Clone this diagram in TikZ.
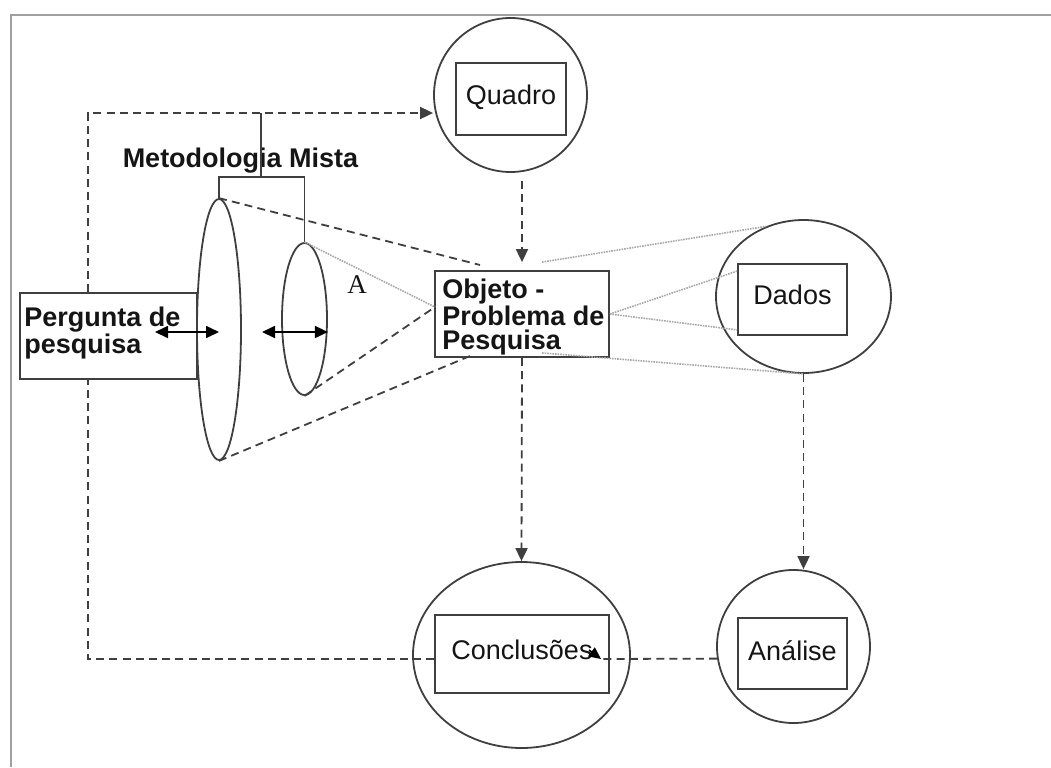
\documentclass[tikz,border=0pt]{standalone}
\usepackage{fontspec}
\setmainfont{Liberation Sans}
\newfontfamily\letterfont{Liberation Serif}
\usepackage{xcolor}
\usepackage{tikz}
\usetikzlibrary{shapes.geometric, positioning, calc, backgrounds, arrows.meta}

\definecolor{linegray}{HTML}{3F3F3F}
\definecolor{dotgray}{HTML}{A8A8A8}
\definecolor{framegray}{HTML}{A0A0A0}
\definecolor{inkblack}{HTML}{151515}

\begin{document}
\begin{tikzpicture}[x=0.5pt, y=-0.5pt,
        box/.style={draw=linegray, line width=0.9pt, fill=white, inner sep=0pt,
                text=inkblack, font=\fontsize{13.5}{15}\selectfont,
                text height=10pt, text depth=4.6pt},
        oval/.style={ellipse, draw=linegray, line width=0.9pt, inner sep=0pt},
        boldtxt/.style={font=\fontsize{13.5}{12}\selectfont\bfseries, text=inkblack,
                align=left, inner sep=0pt},
        dashline/.style={draw=linegray, line width=0.9pt, dash pattern=on 4pt off 2.6pt},
        dasharrow/.style={dashline, -{Triangle[length=6.5pt,width=6pt]}},
        dotline/.style={draw=dotgray, line width=0.8pt, dash pattern=on 0.8pt off 0.5pt},
        dblarrow/.style={draw=black, line width=0.9pt,
                {Triangle[length=6.5pt,width=6pt]}-{Triangle[length=6.5pt,width=6pt]}},
    ]
    \useasboundingbox (0,0) rectangle (1051,767);
    \draw[framegray, line width=1pt] (11,767) -- (11,15) -- (1051,15);

    % circles and boxes
    \node[oval, minimum width=76.5pt, minimum height=77pt] (quadroCirc) at (510.5,95) {};
    \node[box, minimum width=55pt, minimum height=36pt] (quadroBox) at (511,99) {Quadro};
    \node[oval, minimum width=87.5pt, minimum height=76.5pt] (dadosCirc) at (803.5,296.5) {};
    \node[box, minimum width=54.5pt, minimum height=35.5pt] (dadosBox) at (792.5,299.5) {Dados};
    \node[oval, minimum width=76.5pt, minimum height=76.5pt] (anaCirc) at (793.5,646.5) {};
    \node[box, minimum width=54.5pt, minimum height=35.5pt, text depth=3pt] (anaBox) at (792.5,653.5) {Análise};
    \node[oval, minimum width=108.5pt, minimum height=93pt] (conclCirc) at (521.5,655) {};
    \node[box, minimum width=87pt, minimum height=39pt] (conclBox) at (522,654) {Conclusões};

    \node[box, minimum width=87pt, minimum height=43pt] (objBox) at (522,314) {};
    \node[boldtxt, anchor=west] (objTxt) at (442,317) {Objeto -\\Problema de\\Pesquisa};
    \node[box, minimum width=88.5pt, minimum height=43pt] (pergBox) at (108.5,336) {};
    \node[boldtxt, anchor=west] (pergTxt) at (24,333) {Pergunta de\\pesquisa};

    \node[oval, minimum width=22pt, minimum height=130.5pt] (bigEll) at (219,329.5) {};
    \node[oval, minimum width=22.5pt, minimum height=76pt] (smallEll) at (304.5,319) {};
    \node[boldtxt, anchor=base] (metTxt) at (240.5,167) {Metodologia Mista};
    \node[font=\letterfont\fontsize{13.5}{15}\selectfont, text=inkblack, inner sep=0pt] (letterA) at (357,285) {A};

    % bracket above the two ellipses
    \coordinate (brkTop) at (261,113);
    \coordinate (brkMid) at (261,177);
    \draw[linegray, line width=0.9pt] (bigEll.north) |- (brkMid) -| (smallEll.north);
    \draw[linegray, line width=0.9pt] (brkTop) -- (brkMid);

    % long loop on the left
    \coordinate (loopBL) at (88,659);
    \coordinate (loopTL) at (88,113);
    \begin{scope}[on background layer]
        \draw[dasharrow] (conclBox.west |- loopBL) -- (loopBL) -- (loopTL) -- (loopTL -| quadroCirc.west);
    \end{scope}

    % cone towards the object
    \coordinate (objTop) at (480,265);
    \coordinate (objBot) at (470,356);
    \coordinate (objLeft) at (435,307);
    \draw[dashline] (bigEll.north) -- (objTop);
    \draw[dashline] (bigEll.south) -- (objBot);
    \draw[dashline] (smallEll.south) -- (objLeft);
    \draw[dotline] (smallEll.north) -- (objLeft);

    \draw[dotline] ($(objBox.north)+(20,-8)$) -- (dadosCirc.118);
    \draw[dotline] (objBox.east) -- ($(dadosBox.north west)+(0,8)$);
    \draw[dotline] (objBox.east) -- ($(dadosBox.south west)+(0,-6)$);
    \draw[dotline] ($(objBox.south)+(20,-5)$) -- (dadosCirc.south);

    % flow arrows
    \draw[dasharrow, shorten <=4pt, shorten >=4pt] (quadroCirc.south -| objBox.north) -- (objBox.north);
    \draw[dasharrow] (objBox.south) -- (conclCirc.north);
    \draw[dasharrow] (dadosCirc.south) -- (dadosCirc.south |- anaCirc.north);
    \coordinate (conclTip) at (601,659);
    \draw[dashline] (anaCirc.189) -- (conclTip);
    \draw[black, line width=0.8pt, -{Triangle[length=6pt,width=5.5pt]}] ($(conclTip)+(-12,-9)$) -- (conclTip);

    \coordinate (pergArr) at (155,332);
    \coordinate (midArr) at (262,332);
    \draw[dblarrow] (pergArr) -- (pergArr -| bigEll.center);
    \draw[dblarrow] (midArr) -- (midArr -| smallEll.east);
\end{tikzpicture}
\end{document}
